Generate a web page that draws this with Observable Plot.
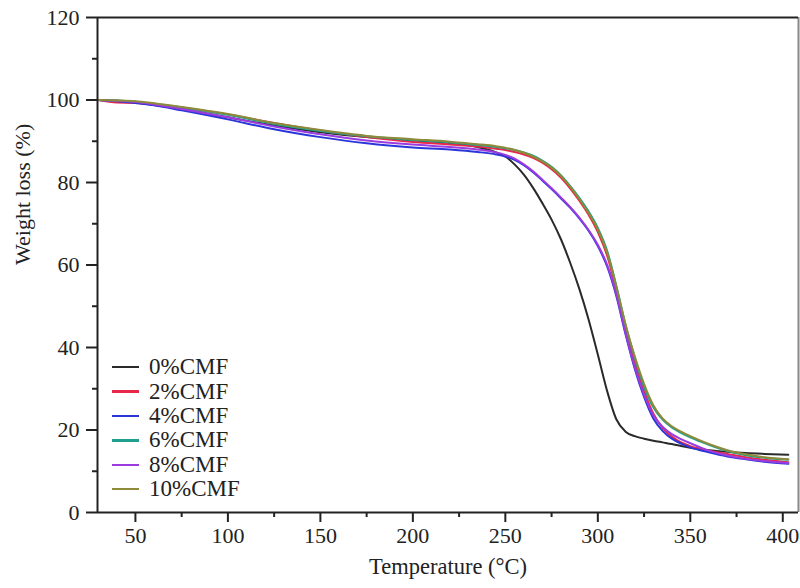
<!DOCTYPE html>
<html>
<head>
<meta charset="utf-8">
<script src="https://cdn.jsdelivr.net/npm/d3@7"></script>
<script src="https://cdn.jsdelivr.net/npm/@observablehq/plot@0.6"></script>
<style>
  html, body { margin: 0; padding: 0; background: #fff; }
  #wrap { position: relative; width: 800px; height: 588px; font-family: "Liberation Serif", "Times New Roman", serif; }
  #legend { position: absolute; left: 112px; top: 355px; font-size: 23px; color: #222; }
  #legend .row { display: flex; align-items: center; height: 24.4px; }
  #legend .sw { width: 27px; height: 2.5px; margin-right: 10px; }
</style>
</head>
<body>
<div id="wrap"><div id="legend"></div></div>
<script>
// Temperature grid (°C)
const temperatures = [30, 40, 50, 60, 75, 100, 125, 150, 175, 200, 220, 235, 245, 250, 255, 260, 265, 270, 275, 280, 285, 290, 295, 300, 305, 310, 315, 320, 325, 330, 335, 340, 345, 350, 360, 370, 380, 390, 403];

// Weight (%) per sample
const cmf0  = [100, 99.8, 99.4, 98.8, 97.8, 95.8, 93.8, 92.2, 91.0, 90.2, 89.6, 88.6, 87.3, 86.3, 84.4, 81.9, 78.7, 75.0, 71.0, 66.3, 60.6, 54.2, 46.8, 38.3, 29.5, 22.6, 19.6, 18.5, 17.9, 17.4, 17.0, 16.6, 16.1, 15.7, 15.1, 14.7, 14.4, 14.2, 14.0];
const cmf2  = [100, 99.4, 99.3, 99.0, 98.2, 96.5, 94.4, 92.6, 91.0, 89.8, 89.2, 88.7, 88.2, 87.9, 87.4, 86.8, 86.0, 84.8, 83.2, 81.2, 78.6, 75.6, 72.2, 68.0, 62.3, 54.0, 44.5, 36.3, 29.5, 24.0, 20.5, 18.4, 17.0, 16.1, 15.0, 14.2, 13.4, 12.8, 12.2];
const cmf4  = [100, 99.7, 99.3, 98.7, 97.5, 95.3, 92.9, 91.0, 89.5, 88.5, 88.0, 87.4, 86.8, 86.3, 85.5, 84.2, 82.5, 80.5, 78.4, 76.2, 73.9, 71.3, 68.3, 64.6, 59.7, 52.5, 43.2, 34.8, 28.0, 22.8, 19.8, 17.9, 16.7, 15.8, 14.6, 13.6, 12.9, 12.3, 11.8];
const cmf6  = [100, 99.9, 99.6, 99.1, 98.2, 96.4, 94.2, 92.5, 91.2, 90.3, 89.7, 89.1, 88.6, 88.3, 87.9, 87.3, 86.5, 85.3, 83.8, 81.8, 79.2, 76.3, 73.0, 69.0, 63.5, 55.0, 45.5, 37.5, 30.5, 25.5, 22.5, 20.6, 19.3, 18.2, 16.4, 14.9, 13.9, 13.3, 12.8];
const cmf8  = [100, 99.8, 99.5, 98.9, 97.8, 95.8, 93.6, 91.7, 90.2, 89.2, 88.6, 88.0, 87.3, 86.7, 85.8, 84.4, 82.7, 80.7, 78.6, 76.4, 74.1, 71.5, 68.5, 64.9, 60.1, 53.0, 43.5, 35.2, 28.6, 23.6, 20.8, 19.0, 17.8, 16.8, 15.0, 13.8, 13.0, 12.5, 12.0];
const cmf10 = [100, 99.9, 99.7, 99.2, 98.3, 96.6, 94.4, 92.7, 91.3, 90.5, 89.9, 89.3, 88.8, 88.4, 87.9, 87.2, 86.3, 85.1, 83.6, 81.6, 79.0, 76.0, 72.6, 68.6, 63.0, 54.8, 45.5, 37.8, 31.2, 26.0, 22.8, 20.9, 19.6, 18.5, 16.6, 15.1, 14.1, 13.4, 12.9];

const seriesNames = ["0%CMF", "2%CMF", "4%CMF", "6%CMF", "8%CMF", "10%CMF"];
const seriesValues = [cmf0, cmf2, cmf4, cmf6, cmf8, cmf10];
const seriesColors = ["#2a2a2a", "#e8284a", "#2a36d8", "#1fa08e", "#9b3be0", "#8d8b3a"];

const xTicks = [50, 100, 150, 200, 250, 300, 350, 400];
const xMinor = [75, 125, 175, 225, 275, 325, 375];
const yTicks = [0, 20, 40, 60, 80, 100, 120];
const yMinor = [10, 30, 50, 70, 90, 110];
const xDomain = [29.5, 408.5];
const yDomain = [0, 120];

const data = [];
seriesNames.forEach((name, i) => {
  temperatures.forEach((t, j) => data.push({series: name, t, w: seriesValues[i][j]}));
});

const chart = Plot.plot({
  width: 800,
  height: 588,
  marginLeft: 97,
  marginRight: 2,
  marginTop: 17,
  marginBottom: 76,
  style: {fontFamily: "Liberation Serif, Times New Roman, serif", fontSize: "22px", color: "#222", background: "#fff"},
  x: {domain: xDomain},
  y: {domain: yDomain},
  color: {domain: seriesNames, range: seriesColors},
  marks: [
    Plot.axisX({ticks: xTicks, tickSize: 10, tickPadding: 5, strokeWidth: 2, stroke: "#222", label: null, fontSize: 22}),
    Plot.axisX({ticks: xMinor, tickSize: 5, strokeWidth: 2, stroke: "#222", tickFormat: () => "", label: null}),
    Plot.axisY({ticks: yTicks, tickSize: 11, tickPadding: 7, strokeWidth: 2, stroke: "#222", label: null, fontSize: 22}),
    Plot.axisY({ticks: yMinor, tickSize: 5, strokeWidth: 2, stroke: "#222", tickFormat: () => "", label: null}),
    Plot.lineY(data, {x: "t", y: "w", z: "series", stroke: "series", strokeWidth: 2, curve: "monotone-x"}),
    Plot.ruleX([xDomain[1]], {stroke: "#888", strokeWidth: 2}),
    Plot.ruleY([yDomain[1]], {stroke: "#222", strokeWidth: 2}),
    Plot.ruleY([yDomain[0]], {stroke: "#222", strokeWidth: 2}),
    Plot.ruleX([xDomain[0]], {stroke: "#222", strokeWidth: 2}),
    Plot.text(["Weight loss (%)"], {frameAnchor: "left", dx: -75, rotate: -90, fontSize: 22, fill: "#222"}),
    Plot.text(["Temperature (°C)"], {frameAnchor: "bottom", dy: 61, fontSize: 22.5, fill: "#222"})
  ]
});

const wrap = document.getElementById("wrap");
wrap.insertBefore(chart, wrap.firstChild);

const legend = document.getElementById("legend");
seriesNames.forEach((name, i) => {
  const row = document.createElement("div");
  row.className = "row";
  const sw = document.createElement("div");
  sw.className = "sw";
  sw.style.background = seriesColors[i];
  const label = document.createElement("span");
  label.textContent = name;
  row.appendChild(sw);
  row.appendChild(label);
  legend.appendChild(row);
});
</script>
</body>
</html>
